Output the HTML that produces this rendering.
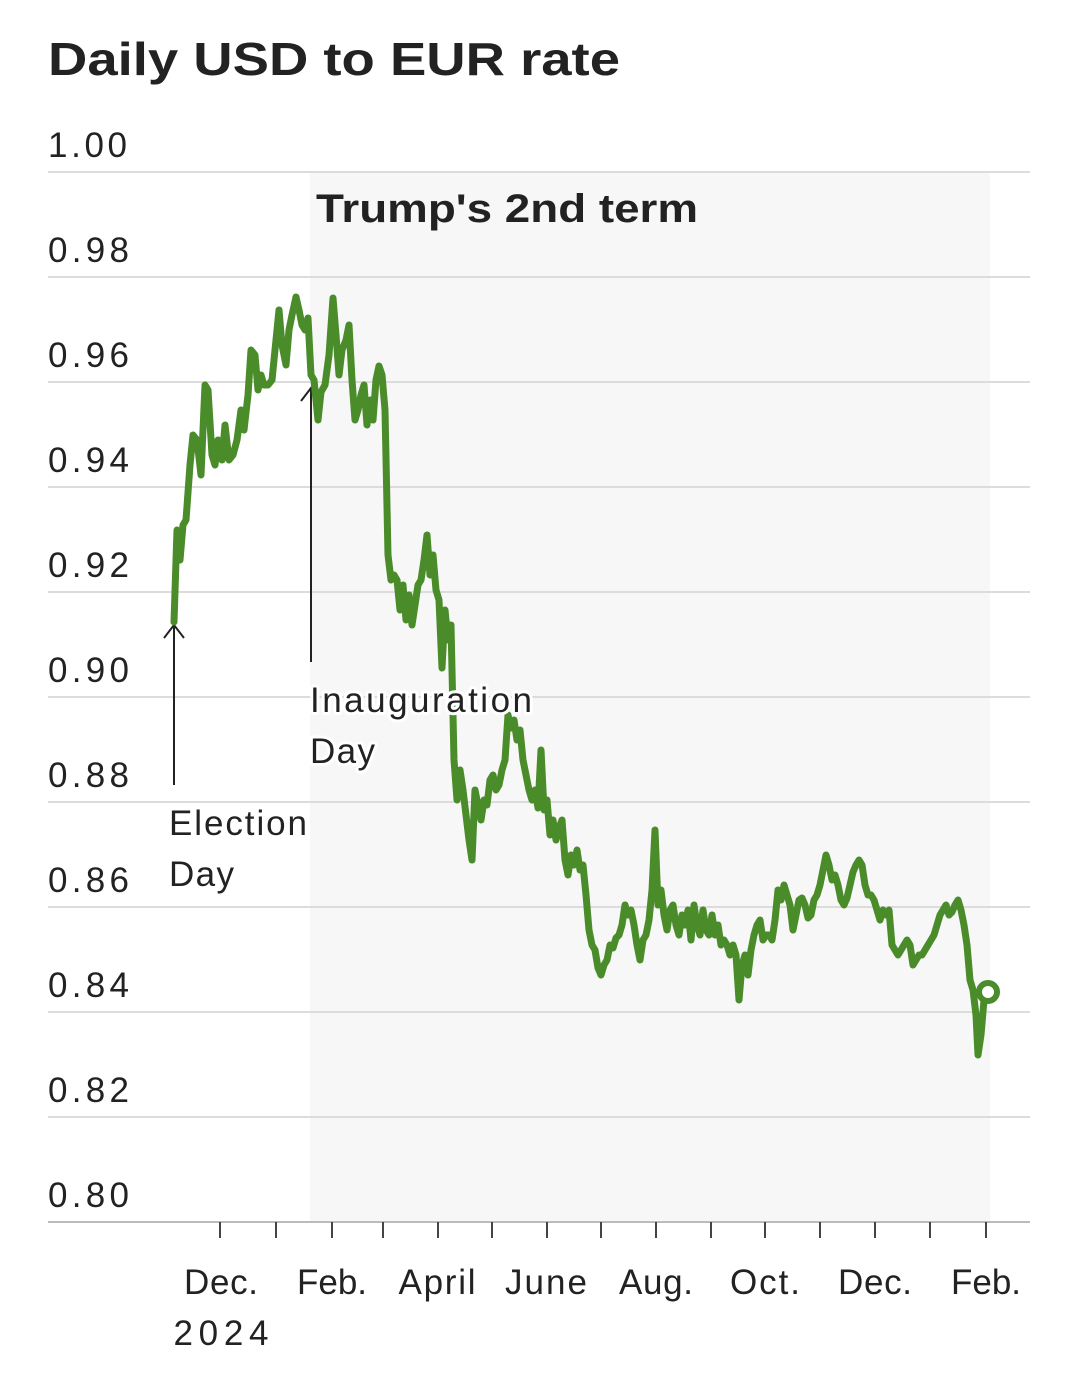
<!DOCTYPE html>
<html><head><meta charset="utf-8"><style>
html,body{margin:0;padding:0;background:#fff;}
svg{display:block;font-family:"Liberation Sans",sans-serif;}
</style></head><body>
<svg width="1080" height="1376" viewBox="0 0 1080 1376">
<rect x="0" y="0" width="1080" height="1376" fill="#fff"/>
<text x="48" y="75" font-size="46" font-weight="bold" fill="#222" textLength="572" lengthAdjust="spacingAndGlyphs">Daily USD to EUR rate</text>
<rect x="310" y="172" width="680" height="1050" fill="#f7f7f7"/>
<g stroke="#dcdcdc" stroke-width="2">
<line x1="48" x2="1030" y1="172" y2="172"/><line x1="48" x2="1030" y1="277" y2="277"/>
<line x1="48" x2="1030" y1="382" y2="382"/><line x1="48" x2="1030" y1="487" y2="487"/>
<line x1="48" x2="1030" y1="592" y2="592"/><line x1="48" x2="1030" y1="697" y2="697"/>
<line x1="48" x2="1030" y1="802" y2="802"/><line x1="48" x2="1030" y1="907" y2="907"/>
<line x1="48" x2="1030" y1="1012" y2="1012"/><line x1="48" x2="1030" y1="1117" y2="1117"/>
</g>
<line x1="48" x2="1030" y1="1222" y2="1222" stroke="#bbb" stroke-width="2"/>
<g font-size="35" fill="#222" lengthAdjust="spacingAndGlyphs">
<text x="48" y="157" textLength="79">1.00</text><text x="48" y="262" textLength="81">0.98</text><text x="48" y="367" textLength="81">0.96</text>
<text x="48" y="472" textLength="81">0.94</text><text x="48" y="577" textLength="81">0.92</text><text x="48" y="682" textLength="81">0.90</text>
<text x="48" y="787" textLength="81">0.88</text><text x="48" y="892" textLength="81">0.86</text><text x="48" y="997" textLength="81">0.84</text>
<text x="48" y="1102" textLength="81">0.82</text><text x="48" y="1207" textLength="81">0.80</text>
</g>
<g stroke="#444" stroke-width="2">
<line x1="220" x2="220" y1="1222" y2="1238"/><line x1="276" x2="276" y1="1222" y2="1238"/>
<line x1="332" x2="332" y1="1222" y2="1238"/><line x1="383" x2="383" y1="1222" y2="1238"/>
<line x1="438" x2="438" y1="1222" y2="1238"/><line x1="492" x2="492" y1="1222" y2="1238"/>
<line x1="547" x2="547" y1="1222" y2="1238"/><line x1="601" x2="601" y1="1222" y2="1238"/>
<line x1="656" x2="656" y1="1222" y2="1238"/><line x1="711" x2="711" y1="1222" y2="1238"/>
<line x1="765" x2="765" y1="1222" y2="1238"/><line x1="820" x2="820" y1="1222" y2="1238"/>
<line x1="875" x2="875" y1="1222" y2="1238"/><line x1="930" x2="930" y1="1222" y2="1238"/>
<line x1="986" x2="986" y1="1222" y2="1238"/>
</g>
<g font-size="35" fill="#222" text-anchor="middle" lengthAdjust="spacingAndGlyphs">
<text x="221" y="1294" textLength="74">Dec.</text><text x="221" y="1345" textLength="95">2024</text>
<text x="332" y="1294" textLength="70">Feb.</text><text x="437" y="1294" textLength="77">April</text><text x="546" y="1294" textLength="82">June</text>
<text x="656" y="1294" textLength="74">Aug.</text><text x="765" y="1294" textLength="70">Oct.</text><text x="875" y="1294" textLength="74">Dec.</text>
<text x="986" y="1294" textLength="70">Feb.</text>
</g>
<text x="507" y="222" font-size="40" font-weight="bold" fill="#222" text-anchor="middle" textLength="382" lengthAdjust="spacingAndGlyphs">Trump's 2nd term</text>
<g stroke="#222" stroke-width="2" fill="none">
<line x1="174" y1="785" x2="174" y2="625"/><polyline points="164,638 174,625 184,638"/>
<line x1="311" y1="662" x2="311" y2="388"/><polyline points="301,401 311,388 321,401"/>
</g>
<polyline fill="none" stroke="#4a8c2a" stroke-width="7" stroke-linejoin="round" stroke-linecap="round" points="174,622 177,530 180,560 183,525 186,520 190,465 193,435 197,440 201,475 205,385 208,390 212,455 215,465 218,440 222,460 225,425 229,460 233,455 237,440 241,410 244,430 248,395 251,350 255,355 258,390 261,375 264,385 268,385 272,380 275,350 279,310 282,345 286,365 289,330 292,315 296,297 299,310 302,325 305,330 308,318 311,375 314,380 318,420 321,392 325,385 329,355 333,298 336,335 339,375 342,350 346,340 349,325 352,380 355,420 358,410 361,395 364,385 367,425 370,400 373,420 376,380 379,366 382,375 385,410 388,555 391,580 394,575 397,580 400,610 403,585 406,620 409,595 412,625 415,605 418,585 421,580 424,560 427,535 430,575 433,555 436,590 439,600 442,668 445,610 448,640 451,625 454,760 457,800 460,770 463,790 466,815 469,840 472,860 475,790 478,805 481,820 484,800 487,805 490,780 493,775 496,790 499,785 502,770 505,760 508,715 511,728 514,720 517,740 520,730 523,760 526,775 529,790 532,800 535,790 538,808 541,750 544,810 547,800 550,835 553,820 556,840 559,828 562,820 565,860 568,875 571,855 574,865 577,850 580,870 583,865 586,895 589,930 592,945 595,950 598,968 601,975 604,965 607,960 610,945 613,948 616,938 619,935 622,925 625,905 628,915 631,910 634,925 637,945 640,960 643,940 646,935 649,920 652,890 655,830 658,905 661,890 664,915 667,930 670,910 673,905 676,925 679,935 682,915 685,925 688,910 691,940 694,905 697,925 700,935 703,910 706,930 709,935 712,915 715,935 718,925 721,945 724,940 727,945 730,955 733,945 736,955 739,1000 742,965 745,955 748,975 751,950 754,935 757,925 760,920 763,940 766,935 769,935 772,940 775,920 778,890 781,900 784,885 787,895 790,905 793,930 796,915 799,900 802,898 805,905 808,918 811,915 814,900 817,895 820,885 823,870 826,855 829,865 832,880 835,875 838,885 841,900 844,905 847,898 850,885 853,872 856,865 859,860 862,865 865,885 868,895 871,895 874,900 877,910 880,920 883,910 886,915 889,910 892,945 895,950 898,955 901,950 904,945 907,940 910,945 913,965 916,960 919,955 922,955 925,950 928,945 931,940 934,935 937,925 940,915 943,910 946,905 949,915 952,912 955,905 958,900 961,910 964,925 967,945 970,980 973,990 976,1015 978,1055 981,1035 984,1000 988,992"/>
<circle cx="988" cy="992" r="9" fill="#fff" stroke="#4a8c2a" stroke-width="6"/>
<g font-size="35" fill="#222" stroke="#fff" stroke-width="6" paint-order="stroke" stroke-linejoin="round" lengthAdjust="spacingAndGlyphs">
<text x="169" y="835" textLength="138">Election</text><text x="169" y="886" textLength="65">Day</text>
<text x="310" y="712" textLength="222">Inauguration</text><text x="310" y="763" textLength="65">Day</text>
</g>
</svg>
</body></html>
